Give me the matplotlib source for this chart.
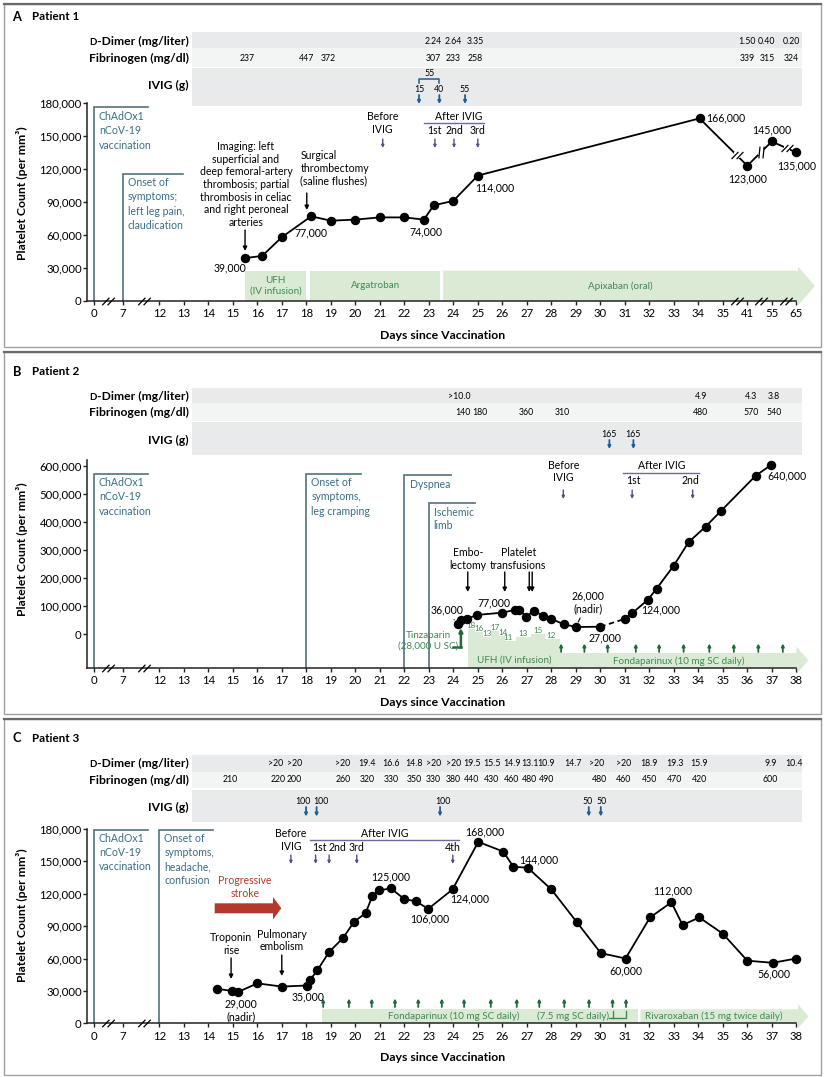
import matplotlib
matplotlib.use("Agg")
import matplotlib.pyplot as plt
from matplotlib.patches import Rectangle, Polygon
from matplotlib.path import Path
from matplotlib.transforms import Affine2D, blended_transform_factory

plt.rcParams['font.family'] = ['Lato', 'DejaVu Sans']

W, H = 825, 1077
fig = plt.figure(figsize=(W / 100, H / 100), dpi=100)
PIX = Affine2D().scale(1, -1).translate(0, H)   # layout coords: pixels from top-left
renderer = fig.canvas.get_renderer()

# ---------------- data ----------------
# x = axis slot: days 12..38 at their own value, day 0 -> 9.33, day 7 -> 10.5
# panel A: days 41, 55, 65 sit on slots 36, 37, 38 (broken axis)
ticks_pos = [9.33, 10.5] + list(range(12, 39))
ticks_a_lab = ['0', '7'] + [str(d) for d in range(12, 36)] + ['41', '55', '65']
ticks_lab = ['0', '7'] + [str(d) for d in range(12, 39)]

# Patient 1
a_x = [15.5, 16.2, 17.0, 18.2, 19.0, 20.0, 21.0, 22.0, 22.8, 23.2, 24.0, 25.0, 34.05, 36, 37, 38]
a_plt = [39000, 41000, 58000, 77000, 73000, 74000, 76000, 76000, 74000, 87000, 91000, 114000,
         166000, 123000, 145000, 135000]
a_dimer_x = [23.2, 24.0, 24.9, 36.0, 36.8, 37.8]
a_dimer = ['2.24', '2.64', '3.35', '1.50', '0.40', '0.20']
a_fib_x = [15.6, 18.0, 18.9, 23.2, 24.0, 24.9, 36.0, 36.8, 37.8]
a_fib = ['237', '447', '372', '307', '233', '258', '339', '315', '324']
a_ivig_x = [22.6, 23.43, 24.48]
a_ivig = ['15', '40', '55']
a_before = 21.12
a_after_x = [23.25, 24.03, 25.0]
a_treat = ['UFH\n(IV infusion)', 'Argatroban', 'Apixaban (oral)']
a_treat_x = [(15.51, 17.98), (18.17, 23.46), (23.59, 38.07)]

# Patient 2 (last point is drawn at the 600,000 level in the original, labelled 640,000)
b_x = [24.18, 24.3, 24.56, 24.95, 26.0, 26.5, 26.7, 26.97, 27.3, 27.66, 28.0, 28.5, 29.0, 30.0,
       31.0, 31.3, 31.95, 32.3, 33.0, 33.6, 34.3, 34.94, 36.35, 36.96]
b_plt = [36000, 51000, 55000, 69000, 77000, 87000, 87000, 63000, 83000, 66000, 55000, 36000,
         26000, 27000, 55000, 75000, 124000, 163000, 245000, 328000, 384000, 441000, 566000, 603000]
b_dimer_x = [24.25, 34.1, 36.15, 37.1]
b_dimer = ['>10.0', '4.9', '4.3', '3.8']
b_fib_x = [24.4, 25.1, 27.0, 28.45, 34.1, 36.15, 37.1]
b_fib = ['140', '180', '360', '310', '480', '570', '540']
b_ivig_x = [30.37, 31.35]
b_ivig = ['165', '165']
b_before = 28.49
b_after_x = [31.3, 33.77]
b_ufh_x = [24.71, 25.05, 25.36, 25.70, 26.04, 26.22, 26.86, 27.47, 27.98]
b_ufh_dose = [18, 16, 13, 17, 14, 11, 13, 15, 12]
b_fonda_x = [28.4, 29.35, 30.3, 31.45, 32.4, 33.4, 34.45, 35.45, 36.45, 37.45]

# Patient 3
c_x = [14.34, 14.95, 15.22, 16.0, 17.0, 18.02, 18.15, 18.45, 18.93, 19.5, 19.95, 20.42, 20.7,
       20.97, 21.45, 22.0, 22.47, 22.98, 23.97, 25.02, 26.04, 26.45, 27.04, 28.0, 29.03, 30.02,
       31.03, 32.03, 32.9, 33.36, 34.04, 35.0, 36.0, 37.03, 38.0]
c_plt = [32000, 30000, 29000, 37000, 34000, 35000, 40000, 49000, 66000, 79000, 94000, 102000,
         118000, 123000, 125000, 115000, 113000, 106000, 124000, 168000, 159000, 145000, 144000,
         124000, 94000, 65000, 60000, 98000, 112000, 91000, 98000, 83000, 58000, 56000, 60000]
c_dimer_x = [16.75, 17.52, 19.5, 20.47, 21.45, 22.4, 23.2, 24.0, 24.75, 25.57, 26.38, 27.12, 27.8,
             28.87, 29.85, 30.95, 32.0, 33.03, 34.04, 36.95, 37.9]
c_dimer = ['>20', '>20', '>20', '19.4', '16.6', '14.8', '>20', '>20', '19.5', '15.5', '14.9',
           '13.1', '10.9', '14.7', '>20', '>20', '18.9', '19.3', '15.9', '9.9', '10.4']
c_fib_x = [14.9, 16.85, 17.52, 19.5, 20.47, 21.45, 22.4, 23.2, 24.0, 24.75, 25.57, 26.38, 27.12,
           27.8, 29.98, 30.95, 32.0, 33.03, 34.04, 36.95]
c_fib = ['210', '220', '200', '260', '320', '330', '350', '330', '380', '440', '430', '460', '480',
         '490', '480', '460', '450', '470', '420', '600']
c_ivig_x = [17.99, 18.42, 23.46, 29.53, 30.02]
c_ivig_lab_x = [17.88, 18.6, 23.57, 29.48, 30.05]
c_ivig = ['100', '100', '100', '50', '50']
c_before = 17.37
c_after_x = [18.38, 18.93, 20.06, 23.98]
c_after_lab_x = [18.55, 19.27, 20.06, 23.98]
c_fonda_x = [18.69, 19.74, 20.67, 21.62, 22.57, 23.53, 24.44, 25.53, 26.59, 27.51, 28.53, 29.54,
             30.5, 31.05]

# ---------------- styles ----------------
EV_LINE = '#52717f'
EV_TXT = '#3a6f87'
G_FILL = '#dbead4'
G_TXT = '#3d8a54'
G_DARK = '#1f6a3c'
PURPLE = '#5a4a8c'
BLUE = '#1d5e98'
RED = '#b5392a'
BAND = '#e9eaeb'
BAND2 = '#f3f4f4'
FS = 7.6    # annotations
GS = 7.1    # treatment text
VS = 6.3    # values in the grey rows
MS = 5.8    # data markers
PX12, PPD = 159.3, 24.5

SLASH = Path([(-1, -0.6), (0.15, 0.6), (-0.15, -0.6), (1, 0.6)],
             [Path.MOVETO, Path.LINETO, Path.MOVETO, Path.LINETO])
BARS = Path([(-0.45, -1), (-0.25, 1), (0.25, -1), (0.45, 1)],
            [Path.MOVETO, Path.LINETO, Path.MOVETO, Path.LINETO])


def slot(px):
    return 12 + (px - PX12) / PPD


def bt(ax):
    return blended_transform_factory(ax.transData, PIX)


def make_axes(top_px, axis_px, zero_px, per_px, yticks, spine_top, xlabels):
    left, right = 87.3, 818
    ax = fig.add_axes([left / W, 1 - axis_px / H, (right - left) / W, (axis_px - top_px) / H])
    ax.set_xlim(slot(left), slot(right))
    ax.set_ylim((zero_px - axis_px) * per_px, (zero_px - top_px) * per_px)
    ax.patch.set_visible(False)
    for s in ('top', 'right'):
        ax.spines[s].set_visible(False)
    for s in ('left', 'bottom'):
        ax.spines[s].set_linewidth(1.1)
        ax.spines[s].set_color('#222222')
    ax.spines['left'].set_bounds(ax.get_ylim()[0], spine_top)
    ax.spines['bottom'].set_bounds(slot(left), 38)
    ax.set_yticks(list(yticks), [f'{v:,}' for v in yticks])
    ax.set_xticks(ticks_pos, xlabels)
    ax.tick_params(direction='out', length=3, width=1.0, labelsize=8.2, color='#222222')
    ax.tick_params(axis='x', pad=2.2)
    ax.tick_params(axis='y', pad=1.0)
    y0 = ax.get_ylim()[0]
    ax.plot([9.9, 11.38], [y0, y0], ls='none', marker=SLASH, ms=9, mew=0.9, color='black',
            clip_on=False, zorder=6)
    return ax


def header(ax, rows, label_ys):
    for y0, y1, c in rows:
        ax.add_patch(Rectangle((192, y0), 610, y1 - y0, transform=PIX, color=c, lw=0,
                               clip_on=False, zorder=0))
    base = [y + 3.6 for y in label_ys]
    t = ax.text(189, base[0], '-Dimer (mg/liter)', transform=PIX, ha='right', va='baseline',
                fontsize=8.7, fontweight='bold')
    x_left = t.get_window_extent(renderer).x0
    ax.text(x_left, base[0], 'D', transform=PIX, ha='right', va='baseline', fontsize=6.9,
            fontweight='bold')   # small-capital D
    for lab, y in zip(['Fibrinogen (mg/dl)', 'IVIG (g)'], base[1:]):
        ax.text(189, y, lab, transform=PIX, ha='right', va='baseline', fontsize=8.7,
                fontweight='bold')


def row_values(ax, xs, vals, y):
    for x, v in zip(xs, vals):
        ax.text(x, y, v, transform=bt(ax), ha='center', va='center', fontsize=VS)


def arrow(ax, x, y0, y1, color, lw=1.0, ms=5):
    t = bt(ax)
    ax.annotate('', xy=(x, y1), xytext=(x, y0), xycoords=t, textcoords=t,
                arrowprops=dict(arrowstyle='-|>', color=color, lw=lw, mutation_scale=ms,
                                shrinkA=0, shrinkB=0), annotation_clip=False)


def note(ax, x, y, s, ha='center', color='black', ls=1.22, fs=FS, **kw):
    ax.text(x, y, s, transform=bt(ax), ha=ha, va='center', color=color, fontsize=fs,
            linespacing=ls, **kw)


def event(ax, x, top_px, x_end, bottom_px, text, text_x, text_y, ls=1.3):
    ax.plot([x, x, x_end], [bottom_px, top_px, top_px], color=EV_LINE, lw=1.2, transform=bt(ax),
            clip_on=False, solid_joinstyle='miter')
    note(ax, text_x, text_y, text, ha='left', color=EV_TXT, ls=ls)


def vlabel(ax, x, v, dx, dy, text=None, leader=False):
    props = dict(arrowstyle='-', lw=0.8, color='black', shrinkA=1, shrinkB=4) if leader else None
    ax.annotate(text or f'{v:,}', (x, v), xytext=(dx, dy), textcoords='offset pixels',
                ha='center', va='center', fontsize=FS, arrowprops=props, annotation_clip=False,
                linespacing=1.2)


def band(ax, x0, x1, y0, y1, color=G_FILL):
    ax.add_patch(Rectangle((x0, y0), x1 - x0, y1 - y0, transform=bt(ax), color=color, lw=0,
                           clip_on=False, zorder=1))


def band_arrow(ax, x0, xh, xt, y0, y1, hy0, hy1, color=G_FILL):
    ym = (y0 + y1) / 2
    ax.add_patch(Polygon([(x0, y0), (xh, y0), (xh, hy0), (xt, ym), (xh, hy1), (xh, y1), (x0, y1)],
                         closed=True, transform=bt(ax), color=color, lw=0, clip_on=False,
                         zorder=1))


def after_ivig(ax, text_x, text_y, line_y, line_x0, line_x1, lab_xs, labs, lab_y):
    note(ax, text_x, text_y, 'After IVIG')
    ax.plot([line_x0, line_x1], [line_y, line_y], color='#7565a5', lw=1.0, transform=bt(ax),
            clip_on=False)
    for x, s in zip(lab_xs, labs):
        note(ax, x, lab_y, s)


def panel_frame(y0, y1, title_y, letter, title):
    fig.add_artist(Rectangle((4, y0), 817, y1 - y0, transform=PIX, fill=False,
                             edgecolor='#a0a0a0', lw=1.0))
    fig.add_artist(plt.Line2D([4, 821], [y0, y0], transform=PIX, color='#6a6a6a', lw=1.6))
    fig.text(12.5, title_y, letter, transform=PIX, ha='left', va='center', fontsize=9.2,
             fontweight='bold')
    fig.text(31.5, title_y, title, transform=PIX, ha='left', va='center', fontsize=8.4,
             fontweight='bold')


def axis_titles(ax, ylab_y, xlab_y):
    ax.text(22, ylab_y, 'Platelet Count (per mm³)', transform=PIX, rotation=90, ha='center',
            va='center', fontsize=8.8, fontweight='bold')
    ax.text(443, xlab_y, 'Days since Vaccination', transform=PIX, ha='center', va='center',
            fontsize=8.8, fontweight='bold')


# ================= Panel A =================
panel_frame(4, 347, 16.7, 'A', 'Patient 1')
axA = make_axes(96, 301, 301, 30000 / 33, range(0, 180001, 30000), 180000, ticks_a_lab)
axA.plot([35.57, 36.55, 37.57], [0, 0, 0], ls='none', marker=SLASH, ms=9, mew=0.9,
         color='black', clip_on=False, zorder=6)
axis_titles(axA, 193, 335.7)
header(axA, [(32, 48, BAND), (48, 66.5, BAND2), (67.5, 106, BAND)], [41.7, 58.3, 85])
row_values(axA, a_dimer_x, a_dimer, 41.7)
row_values(axA, a_fib_x, a_fib, 58.3)
for x, g in zip(a_ivig_x, a_ivig):
    note(axA, x, 90, g, fs=VS)
    arrow(axA, x, 95, 104, BLUE, lw=1.3, ms=4)
note(axA, (a_ivig_x[0] + a_ivig_x[1]) / 2, 74, '55', fs=VS)
axA.plot([a_ivig_x[0], a_ivig_x[0], a_ivig_x[1], a_ivig_x[1]], [83, 79.3, 79.3, 83], color=BLUE,
         lw=1.1, transform=bt(axA), clip_on=False)

event(axA, 9.33, 107, slot(148), 301, 'ChAdOx1\nnCoV-19\nvaccination', 9.53, 131, ls=1.34)
event(axA, 10.5, 174, slot(183), 301, 'Onset of\nsymptoms;\nleft leg pain,\nclaudication',
      10.72, 204, ls=1.34)
note(axA, 15.54, 184.5, 'Imaging: left\nsuperficial and\ndeep femoral-artery\nthrombosis; partial\n'
     'thrombosis in celiac\nand right peroneal\narteries', ls=1.18)
arrow(axA, a_x[0], 230, 251, 'black', lw=1.0, ms=6)
note(axA, 17.76, 168.2, 'Surgical\nthrombectomy\n(saline flushes)', ha='left', ls=1.18)
arrow(axA, 18.02, 193, 210, 'black', lw=1.0, ms=6)

note(axA, a_before, 123, 'Before\nIVIG', ls=1.17)
arrow(axA, a_before, 139, 148, PURPLE, lw=1.0, ms=4)
after_ivig(axA, 24.2, 116.3, 123.3, 22.8, 25.25, a_after_x, ['1st', '2nd', '3rd'], 130.7)
for x in a_after_x:
    arrow(axA, x, 139, 148, PURPLE, lw=1.0, ms=4)

for (x0, x1), lab in zip(a_treat_x[:2], a_treat[:2]):
    band(axA, x0, x1, 270.7, 301)
    note(axA, (x0 + x1) / 2, 286, lab, color=G_TXT, ls=1.2, fs=GS)
band_arrow(axA, a_treat_x[2][0], a_treat_x[2][1], 38.76, 270.7, 301, 266.5, 305.5)
note(axA, sum(a_treat_x[2]) / 2, 286, a_treat[2], color=G_TXT, fs=GS)

axA.plot(a_x, a_plt, color='black', lw=1.3, marker='o', ms=MS, zorder=5, clip_on=False)
for i, f, mk in [(12, 0.78, SLASH), (13, 0.55, BARS), (14, 0.6, SLASH)]:
    bx = a_x[i] + f * (a_x[i + 1] - a_x[i])
    by = a_plt[i] + f * (a_plt[i + 1] - a_plt[i])
    axA.plot([bx], [by], marker='s', ms=4, color='white', mew=0, zorder=6)
    axA.plot([bx], [by], ls='none', marker=mk, ms=8.5, mew=0.9, color='black', zorder=7)
for i, dx, dy in [(0, -15, -10), (3, 0, -17), (8, 2, -12), (11, 17, -12), (12, 26, 0),
                  (13, 0, -13), (14, 0, 12), (15, 0, -13)]:
    vlabel(axA, a_x[i], a_plt[i], dx, dy)

# ================= Panel B =================
panel_frame(352, 714, 371.7, 'B', 'Patient 2')
axB = make_axes(455, 667.7, 634.3, 100000 / 28.05, range(0, 600001, 100000), 621000, ticks_lab)
axis_titles(axB, 549, 702)
header(axB, [(387.7, 402.7, BAND), (402.7, 420.5, BAND2), (422, 455, BAND)], [396.2, 412.5, 440])
row_values(axB, b_dimer_x, b_dimer, 396.2)
row_values(axB, b_fib_x, b_fib, 412.5)
for x, g in zip(b_ivig_x, b_ivig):
    note(axB, x, 434.5, g, fs=VS)
    arrow(axB, x, 440, 449, BLUE, lw=1.3, ms=4)

event(axB, 9.33, 474.3, slot(148), 667.7, 'ChAdOx1\nnCoV-19\nvaccination', 9.53, 497, ls=1.34)
event(axB, 18, 474.3, slot(361), 667.7, 'Onset of\nsymptoms,\nleg cramping', 18.2, 497, ls=1.34)
event(axB, 22, 475, slot(451), 667.7, 'Dyspnea', 22.24, 484.3)
event(axB, 23, 502.7, slot(475), 667.7, 'Ischemic\nlimb', 23.2, 518.7, ls=1.22)

note(axB, 22.98, 640.8, 'Tinzaparin\n(28,000 U SC)', color=G_TXT, ls=1.2, fs=GS)
axB.plot([slot(452.5), 24.31], [646.7, 646.7], color=G_DARK, lw=1.8, transform=bt(axB),
         clip_on=False)
arrow(axB, 24.31, 647.5, 628, G_DARK, lw=1.8, ms=5)

note(axB, 24.59, 558.8, 'Embo-\nlectomy', ls=1.17)
arrow(axB, 24.59, 572, 592, 'black', ms=6)
note(axB, 26.65, 558.8, 'Platelet\ntransfusions', ls=1.17)
for x in [26.1, 27.1, 27.22]:
    arrow(axB, x, 572, 592, 'black', ms=6)

note(axB, b_before, 471.7, 'Before\nIVIG', ls=1.17)
arrow(axB, b_before, 490, 499, PURPLE, ms=4)
after_ivig(axB, 32.5, 465.7, 472.7, 30.94, 34.04, [31.35, 33.67], ['1st', '2nd'], 480.7)
for x in b_after_x:
    arrow(axB, x, 490, 499, PURPLE, ms=4)

# UFH infusion: stepped area following the hourly dose
bounds = [24.6] + [(b_ufh_x[i] + b_ufh_x[i + 1]) / 2 for i in range(len(b_ufh_x) - 1)] + [28.35]
verts = [(24.6, 667.7)]
for i, d in enumerate(b_ufh_dose):
    top = 659.5 - 1.7 * d
    verts += [(bounds[i], top), (bounds[i + 1], top)]
    note(axB, b_ufh_x[i], top - 3.5, str(d), color=G_TXT, fs=5.8)
verts += [(28.35, 667.7)]
axB.add_patch(Polygon(verts, closed=True, transform=bt(axB), color=G_FILL, lw=0, clip_on=False,
                      zorder=1))
band_arrow(axB, 28.3, 38.0, 38.49, 653, 667.7, 646.5, 674.2)
note(axB, 26.5, 660.5, 'UFH (IV infusion)', color=G_TXT, fs=GS)
note(axB, 33.19, 661, 'Fondaparinux (10 mg SC daily)', color=G_TXT, fs=GS)
for x in b_fonda_x:
    arrow(axB, x, 652, 643.5, G_DARK, lw=1.3, ms=4)

axB.plot(b_x[:14], b_plt[:14], color='black', lw=1.3, marker='o', ms=MS, zorder=5)
axB.plot(b_x[13:15], b_plt[13:15], color='black', lw=1.3, ls=(0, (3, 2)), zorder=4)
axB.plot(b_x[14:], b_plt[14:], color='black', lw=1.3, marker='o', ms=MS, zorder=5, clip_on=False)
vlabel(axB, b_x[0], b_plt[0], -11, 14, leader=True)
vlabel(axB, b_x[4], b_plt[4], -8, 10)
vlabel(axB, b_x[12], b_plt[12], 12, 25, text='26,000\n(nadir)', leader=True)
vlabel(axB, b_x[13], b_plt[13], 5, -11)
vlabel(axB, b_x[16], b_plt[16], 13, -10)
vlabel(axB, b_x[23], b_plt[23], 16, -11, text='640,000')

# ================= Panel C =================
panel_frame(719, 1075, 738.3, 'C', 'Patient 3')
axC = make_axes(820, 1023.3, 1023.3, 30000 / 32.4, range(0, 180001, 30000), 180000, ticks_lab)
axis_titles(axC, 915, 1057.3)
header(axC, [(755, 771.7, BAND), (771.7, 788.3, BAND2), (789.5, 821.7, BAND)], [763, 780, 807])
row_values(axC, c_dimer_x, c_dimer, 763)
row_values(axC, c_fib_x, c_fib, 780)
for x, lx, g in zip(c_ivig_x, c_ivig_lab_x, c_ivig):
    note(axC, lx, 801.5, g, fs=VS)
    arrow(axC, x, 807, 816.5, BLUE, lw=1.3, ms=4)

event(axC, 9.33, 830, slot(148), 1023.3, 'ChAdOx1\nnCoV-19\nvaccination', 9.53, 852.5, ls=1.34)
event(axC, 12, 830, slot(213), 1023.3, 'Onset of\nsymptoms,\nheadache,\nconfusion', 12.2, 859.5,
      ls=1.34)
note(axC, 15.5, 887, 'Progressive\nstroke', color=RED, ls=1.17)
band_arrow(axC, 14.26, 16.64, 16.98, 903.3, 913.3, 897, 919.5, color=RED)
note(axC, 14.93, 944, 'Troponin\nrise', ls=1.17)
arrow(axC, 14.93, 958, 979, 'black', ms=6)
note(axC, 17.0, 940.3, 'Pulmonary\nembolism', ls=1.17)
arrow(axC, 17.0, 955, 976, 'black', ms=6)

note(axC, c_before, 840, 'Before\nIVIG', ls=1.17)
arrow(axC, c_before, 855, 864, PURPLE, ms=4)
after_ivig(axC, 21.18, 833.3, 839.5, 18.15, 24.24, c_after_lab_x, ['1st', '2nd', '3rd', '4th'],
           847.7)
for x in c_after_x:
    arrow(axC, x, 855, 864, PURPLE, ms=4)

band(axC, 18.63, 31.55, 1009.3, 1023.3)
band_arrow(axC, 31.64, 38.07, 38.49, 1009.3, 1023.3, 1004.3, 1028.3)
note(axC, 24.0, 1016.5, 'Fondaparinux (10 mg SC daily)', color=G_TXT, fs=GS)
note(axC, 28.88, 1016.5, '(7.5 mg SC daily)', color=G_TXT, fs=GS)
note(axC, 34.64, 1016.5, 'Rivaroxaban (15 mg twice daily)', color=G_TXT, fs=GS)
axC.plot([slot(609), c_fonda_x[-2], c_fonda_x[-2]], [1018, 1018, 1011], color=G_TXT, lw=1.0,
         transform=bt(axC), clip_on=False)
axC.plot([c_fonda_x[-2], c_fonda_x[-1], c_fonda_x[-1]], [1018, 1018, 1011], color=G_TXT, lw=1.0,
         transform=bt(axC), clip_on=False)
for x in c_fonda_x:
    arrow(axC, x, 1007, 998.5, G_DARK, lw=1.3, ms=4)

axC.plot(c_x, c_plt, color='black', lw=1.3, marker='o', ms=MS, zorder=5, clip_on=False)
vlabel(axC, c_x[2], c_plt[2], 3, -18, text='29,000\n(nadir)')
for i, dx, dy in [(5, 1, -11), (14, 0, 11), (17, 1, -10), (18, 17, -10), (19, 6, 10), (22, 11, 8),
                  (26, 0, -12), (28, 1, 11), (33, 1, -11)]:
    vlabel(axC, c_x[i], c_plt[i], dx, dy)

fig.savefig('out.png', dpi=100)
